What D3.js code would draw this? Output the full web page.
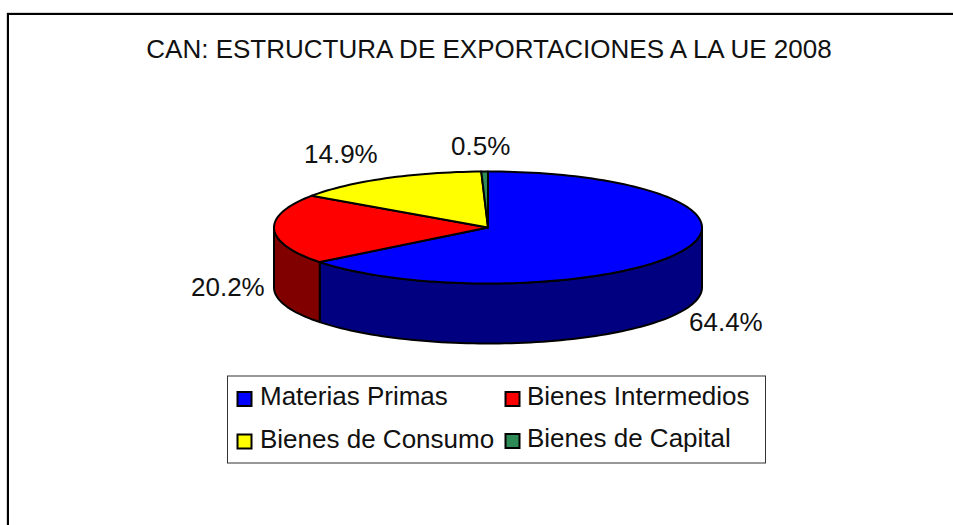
<!DOCTYPE html>
<html><head><meta charset="utf-8">
<script src="https://cdn.jsdelivr.net/npm/d3@7/dist/d3.min.js"></script>
<style>html,body{margin:0;padding:0;background:#fff;overflow:hidden}svg{display:block}text{font-family:"Liberation Sans",Arial,sans-serif;fill:#111}</style>
</head><body><svg id="c" width="953" height="525"></svg>
<script>
const titleText = "CAN: ESTRUCTURA DE EXPORTACIONES A LA UE 2008";
const categories = ["Materias Primas","Bienes Intermedios","Bienes de Consumo","Bienes de Capital"];
const values = [64.4,20.2,14.9,0.5];
const valueLabels = ["64.4%","20.2%","14.9%","0.5%"];
const topColors = ["#0000ff","#ff0000","#ffff00","#2e8b57"];
const sideColors = ["#000080","#800000","#808000","#17452b"];
const labelAnchors = [[689,331],[191,296],[304,163],[451,155]];
const legendCells = [[237.5,260,398.5,405],[505.5,527,398.5,405],[237.5,260,441,448],[505.5,527,440.5,447]];

const svg = d3.select("#c");
const cx=488, cy=227.5, rx=214, ry=56, depth=60;
const fs=26;

// frame
svg.append("path").attr("d","M7,525V13H953").attr("fill","none").attr("stroke","#aaa").attr("stroke-width",1);
svg.append("path").attr("d","M8,525V14H953").attr("fill","none").attr("stroke","#000").attr("stroke-width",2);

svg.append("text").attr("x",489).attr("y",58).attr("text-anchor","middle").attr("font-size",fs).text(titleText);

const arcs = d3.pie().sort(null).startAngle(0).endAngle(2*Math.PI)(values);
const X=d3.scaleLinear().domain([-1,1]).range([cx-rx,cx+rx]);
const Y=d3.scaleLinear().domain([-1,1]).range([cy-ry,cy+ry]);
const pt=(a,dz=0)=>[X(Math.sin(a)),Y(-Math.cos(a))+dz];
const samples=(a0,a1)=>{const n=Math.max(2,Math.ceil((a1-a0)/0.03));return d3.range(n+1).map(i=>a0+(a1-a0)*i/n);};
const line=d3.line();
const stroke={stroke:"#000","stroke-width":2,"stroke-linejoin":"round"};
const styled=s=>{Object.entries(stroke).forEach(([k,v])=>s.attr(k,v));return s;};

// side walls (front half only)
const H=Math.PI/2, T=3*Math.PI/2;
arcs.forEach((d,i)=>{
  const a0=Math.max(d.startAngle,H), a1=Math.min(d.endAngle,T);
  if(a1<=a0) return;
  const s=samples(a0,a1);
  const pts=s.map(a=>pt(a)).concat(s.slice().reverse().map(a=>pt(a,depth)));
  styled(svg.append("path").attr("d",line(pts)+"Z").attr("fill",sideColors[i]));
});
// top slices
arcs.forEach((d,i)=>{
  const pts=[[cx,cy]].concat(samples(d.startAngle,d.endAngle).map(a=>pt(a)));
  styled(svg.append("path").attr("d",line(pts)+"Z").attr("fill",topColors[i]));
});
// value labels
valueLabels.forEach((t,i)=>svg.append("text").attr("x",labelAnchors[i][0]).attr("y",labelAnchors[i][1]).attr("font-size",fs).text(t));

// legend
svg.append("rect").attr("x",227.5).attr("y",376).attr("width",538).attr("height",87).attr("fill","#fff").attr("stroke","#333").attr("stroke-width",1);
categories.forEach((c,i)=>{
  const [sx,tx,my,by]=legendCells[i];
  svg.append("rect").attr("x",sx).attr("y",my-6.5).attr("width",14).attr("height",14).attr("fill",topColors[i]).attr("stroke","#000").attr("stroke-width",2);
  svg.append("text").attr("x",tx).attr("y",by).attr("font-size",fs).text(c);
});
</script></body></html>
